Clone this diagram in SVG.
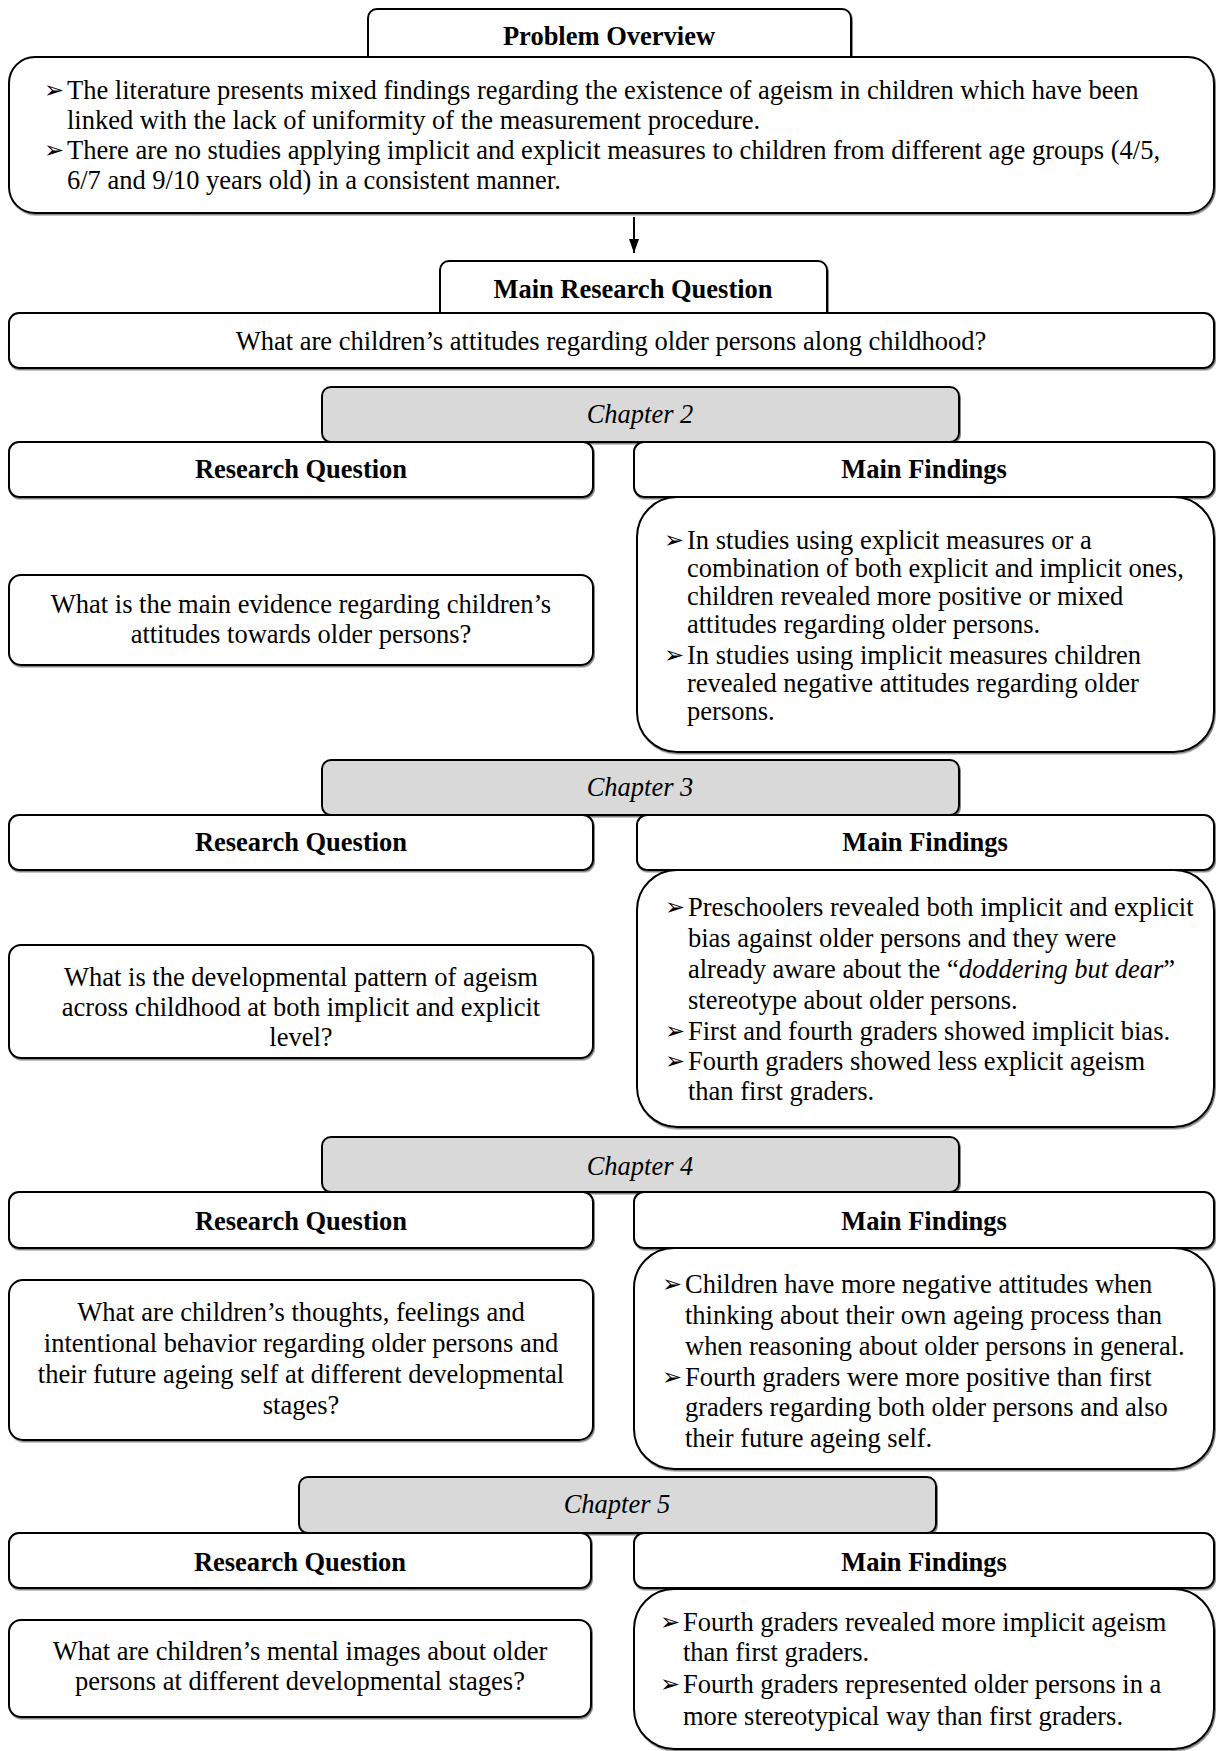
<svg xmlns="http://www.w3.org/2000/svg" width="1216" height="1751" viewBox="0 0 1216 1751">
  <defs>
    <style>
      .box { fill: #ffffff; stroke: #000000; stroke-width: 2; filter: url(#shade); }
      .tab { fill: #d9d9d9; stroke: #000000; stroke-width: 2; filter: url(#shade); }
      text { font-family: "Liberation Serif", "Times New Roman", serif; font-size: 26.5px; fill: #000000; }
      .c { text-anchor: middle; }
      .b { font-weight: bold; }
      .i { font-style: italic; }
      .bul { font-family: "DejaVu Sans", sans-serif; font-size: 24px; }
    </style>
    <filter id="shade" x="-5%" y="-5%" width="110%" height="115%">
      <feDropShadow dx="1" dy="1.5" stdDeviation="0.6" flood-color="#555555" flood-opacity="0.7"/>
    </filter>
    <marker id="arrow" viewBox="0 0 14 10" refX="14" refY="5" markerWidth="14" markerHeight="10" markerUnits="userSpaceOnUse" orient="auto">
      <path d="M0,0 L14,5 L0,10 Z" fill="#000000"/>
    </marker>
  </defs>

  <rect width="1216" height="1751" fill="#ffffff"/>

  <!-- Problem overview -->
  <g id="problem-overview">
    <rect class="box" x="368" y="9" width="483" height="60" rx="9"/>
    <text class="c b" x="609" y="45">Problem Overview</text>
    <rect class="box" x="9" y="57" width="1205" height="156" rx="26"/>
    <text class="bul" x="44" y="98">➢</text>
    <text x="67" y="99">The literature presents mixed findings regarding the existence of ageism in children which have been</text>
    <text x="67" y="129">linked with the lack of uniformity of the measurement procedure.</text>
    <text class="bul" x="44" y="158">➢</text>
    <text x="67" y="159">There are no studies applying implicit and explicit measures to children from different age groups (4/5,</text>
    <text x="67" y="189">6/7 and 9/10 years old) in a consistent manner.</text>
  </g>

  <!-- Main research question -->
  <g id="main-question">
    <rect class="box" x="440" y="261" width="387" height="62" rx="9"/>
    <text class="c b" x="633" y="298">Main Research Question</text>
    <rect class="box" x="9" y="313" width="1205" height="55" rx="10"/>
    <text class="c" x="611" y="350">What are children’s attitudes regarding older persons along childhood?</text>
  </g>

  <!-- Chapter 2 -->
  <g id="chapter-2">
    <rect class="tab" x="322" y="387" width="637" height="55" rx="9"/>
    <text class="c i" x="640" y="423">Chapter 2</text>
    <rect class="box" x="9" y="442" width="584" height="55" rx="10"/>
    <text class="c b" x="301" y="478">Research Question</text>
    <rect class="box" x="634" y="442" width="580" height="55" rx="10"/>
    <text class="c b" x="924" y="478">Main Findings</text>
    <rect class="box" x="9" y="575" width="584" height="90" rx="12"/>
    <text class="c" x="301" y="613">What is the main evidence regarding children’s</text>
    <text class="c" x="301" y="643">attitudes towards older persons?</text>
    <rect class="box" x="637" y="497" width="577" height="255" rx="40"/>
    <text class="bul" x="664" y="548">➢</text>
    <text x="687" y="549">In studies using explicit measures or a</text>
    <text x="687" y="577">combination of both explicit and implicit ones,</text>
    <text x="687" y="605">children revealed more positive or mixed</text>
    <text x="687" y="633">attitudes regarding older persons.</text>
    <text class="bul" x="664" y="663">➢</text>
    <text x="687" y="664">In studies using implicit measures children</text>
    <text x="687" y="692">revealed negative attitudes regarding older</text>
    <text x="687" y="720">persons.</text>
  </g>

  <!-- Chapter 3 -->
  <g id="chapter-3">
    <rect class="tab" x="322" y="760" width="637" height="55" rx="9"/>
    <text class="c i" x="640" y="796">Chapter 3</text>
    <rect class="box" x="9" y="815" width="584" height="55" rx="10"/>
    <text class="c b" x="301" y="851">Research Question</text>
    <rect class="box" x="637" y="815" width="577" height="55" rx="10"/>
    <text class="c b" x="925" y="851">Main Findings</text>
    <rect class="box" x="9" y="945" width="584" height="113" rx="12"/>
    <text class="c" x="301" y="986">What is the developmental pattern of ageism</text>
    <text class="c" x="301" y="1016">across childhood at both implicit and explicit</text>
    <text class="c" x="301" y="1046">level?</text>
    <rect class="box" x="637" y="870" width="577" height="257" rx="40"/>
    <text class="bul" x="665" y="915">➢</text>
    <text x="688" y="916">Preschoolers revealed both implicit and explicit</text>
    <text x="688" y="947">bias against older persons and they were</text>
    <text x="688" y="978">already aware about the “<tspan class="i">doddering but dear</tspan>”</text>
    <text x="688" y="1009">stereotype about older persons.</text>
    <text class="bul" x="665" y="1039">➢</text>
    <text x="688" y="1040">First and fourth graders showed implicit bias.</text>
    <text class="bul" x="665" y="1069">➢</text>
    <text x="688" y="1070">Fourth graders showed less explicit ageism</text>
    <text x="688" y="1100">than first graders.</text>
  </g>

  <!-- Chapter 4 -->
  <g id="chapter-4">
    <rect class="tab" x="322" y="1137" width="637" height="55" rx="9"/>
    <text class="c i" x="640" y="1175">Chapter 4</text>
    <rect class="box" x="9" y="1192" width="584" height="56" rx="10"/>
    <text class="c b" x="301" y="1230">Research Question</text>
    <rect class="box" x="634" y="1192" width="580" height="56" rx="10"/>
    <text class="c b" x="924" y="1230">Main Findings</text>
    <rect class="box" x="9" y="1280" width="584" height="160" rx="14"/>
    <text class="c" x="301" y="1321">What are children’s thoughts, feelings and</text>
    <text class="c" x="301" y="1352">intentional behavior regarding older persons and</text>
    <text class="c" x="301" y="1383">their future ageing self at different developmental</text>
    <text class="c" x="301" y="1414">stages?</text>
    <rect class="box" x="634" y="1248" width="580" height="221" rx="40"/>
    <text class="bul" x="662" y="1292">➢</text>
    <text x="685" y="1293">Children have more negative attitudes when</text>
    <text x="685" y="1324">thinking about their own ageing process than</text>
    <text x="685" y="1355">when reasoning about older persons in general.</text>
    <text class="bul" x="662" y="1385">➢</text>
    <text x="685" y="1386">Fourth graders were more positive than first</text>
    <text x="685" y="1416">graders regarding both older persons and also</text>
    <text x="685" y="1447">their future ageing self.</text>
  </g>

  <!-- Chapter 5 -->
  <g id="chapter-5">
    <rect class="tab" x="299" y="1477" width="637" height="56" rx="9"/>
    <text class="c i" x="617" y="1513">Chapter 5</text>
    <rect class="box" x="9" y="1533" width="582" height="55" rx="10"/>
    <text class="c b" x="300" y="1571">Research Question</text>
    <rect class="box" x="634" y="1533" width="580" height="55" rx="10"/>
    <text class="c b" x="924" y="1571">Main Findings</text>
    <rect class="box" x="9" y="1620" width="582" height="97" rx="12"/>
    <text class="c" x="300" y="1660">What are children’s mental images about older</text>
    <text class="c" x="300" y="1690">persons at different developmental stages?</text>
    <rect class="box" x="634" y="1589" width="580" height="160" rx="40"/>
    <text class="bul" x="660" y="1630">➢</text>
    <text x="683" y="1631">Fourth graders revealed more implicit ageism</text>
    <text x="683" y="1661">than first graders.</text>
    <text class="bul" x="660" y="1692">➢</text>
    <text x="683" y="1693">Fourth graders represented older persons in a</text>
    <text x="683" y="1725">more stereotypical way than first graders.</text>
  </g>

  <!-- Connectors -->
  <g id="connectors">
    <line x1="634" y1="217" x2="634" y2="253" stroke="#000000" stroke-width="2" marker-end="url(#arrow)"/>
  </g>
</svg>
